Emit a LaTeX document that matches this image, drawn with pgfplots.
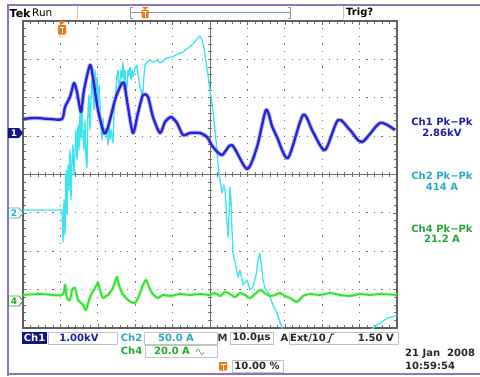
\documentclass[border=0pt]{standalone}
\usepackage{pgfplots}
\pgfplotsset{compat=1.18}
\usepackage{fontspec}
\setmainfont{DejaVu Sans}
\definecolor{chonel}{RGB}{35,35,215}
\definecolor{chonet}{RGB}{30,30,165}
\definecolor{chonedark}{RGB}{20,20,130}
\definecolor{chtwol}{RGB}{60,228,240}
\definecolor{chtwot}{RGB}{40,170,195}
\definecolor{chfourl}{RGB}{45,228,45}
\definecolor{chfourt}{RGB}{35,165,55}
\definecolor{tekorange}{RGB}{240,120,20}
\definecolor{gridgray}{RGB}{110,110,110}
\definecolor{bordergray}{RGB}{95,95,95}
\definecolor{boxgray}{RGB}{195,195,195}
\definecolor{framepurple}{RGB}{145,115,185}

\pgfplotstableread{
px py
23 119
35 118
50 119
62 119
65 107
70 97
74 83
77 92
81 112
84 90
90 65
93 78
98 110
104 133
108 127
115 100
120 87
124 83
128 107
133 133
138 113
143 95
148 97
153 117
160 133
165 122
171 117
177 123
183 135
190 133
200 133
207 137
213 147
222 155
232 145
247 169
257 147
266 110
272 126
277 137
288 158
303 115
313 132
325 150
338 120
350 130
362 142
380 123
395 130
}\chone

\pgfplotstableread{
px py
23 210
40 210
62 210
63 242
64 200
65 235
66 170
67 215
68 165
69 190
70 150
71 200
72 160
73 145
74 175
76 130
77 160
78 125
79 150
80 112
81 140
82 105
83 135
84 150
85 120
86 160
87 168
88 110
89 95
90 130
91 100
92 80
94 110
95 70
96 90
97 77
98 105
99 85
100 103
101 125
102 140
103 118
104 135
106 128
108 145
109 120
110 140
111 130
113 143
114 115
115 100
116 90
117 75
118 70
119 85
120 87
121 70
122 78
123 62
124 80
125 70
126 90
127 87
128 70
129 75
130 67
131 80
132 70
133 77
135 68
137 65
138 75
139 80
140 87
141 90
142 95
143 92
144 75
145 65
147 62
150 60
153 62
157 60
160 63
162 62
165 59
167 58
172 57
178 54
183 52
188 48
193 44
198 38
200 36
202 40
204 48
206 62
208 75
210 90
212 103
214 120
216 140
218 165
220 180
222 193
224 185
225 190
226 205
228 237
229 215
230 187
231 200
232 230
233 253
235 262
238 277
240 270
243 285
247 280
250 290
253 287
256 275
258 260
260 253
261 262
263 280
265 288
268 292
270 297
273 305
277 313
280 322
283 330
287 340
}\chtwoa

\pgfplotstableread{
px py
368 340
372 329
377 325
382 322
387 318
392 317
398 315
}\chtwob

\pgfplotstableread{
px py
23 295
40 294
62 295
65 285
67 298
70 300
72 290
75 288
78 300
80 302
83 305
86 310
89 300
92 293
95 288
98 283
100 290
103 298
106 296
108 295
110 292
112 290
115 282
117 277
119 285
122 293
125 297
128 300
131 302
135 303
138 298
140 293
143 285
146 280
149 287
152 293
155 296
158 298
163 295
170 296
180 294
190 295
200 294
210 295
215 293
220 296
225 292
230 294
235 297
240 293
245 295
250 298
255 294
260 290
265 293
270 296
275 295
280 293
285 296
290 298
297 302
303 296
310 294
320 295
330 293
340 295
350 296
360 294
370 295
380 294
397 295
}\chfour

\begin{document}
\begin{tikzpicture}[x=1pt,y=1pt,font=\bfseries\fontsize{10}{12}\selectfont]
\useasboundingbox (0,0) rectangle (480,376);
\fill[white] (0,0) rectangle (480,376);
% frame
\draw[framepurple,line width=2pt] (8,0) -- (8,371) -- (481,371);
\draw[framepurple,line width=2pt] (7,2) -- (481,2);
% header
\node[anchor=west,inner sep=0pt,font=\bfseries\fontsize{11}{12}\selectfont] at (9.5,363) {Tek};
\node[anchor=west,inner sep=0pt,font=\fontsize{10.5}{12}\selectfont] at (32,363) {Run};
\draw[boxgray] (77,357) -- (77,370);
\draw[boxgray] (343,357) -- (343,370);
\draw[gray!80] (132.5,358) -- (130,358) -- (130,369) -- (132.5,369);
\draw[gray!80] (287.5,358) -- (290,358) -- (290,369) -- (287.5,369);
\draw[chonel!55,line width=1pt] (130,363.5) -- (290,363.5);
\fill[tekorange] (142,369) -- (148,369) -- (145,366) -- cycle;
\fill[tekorange,rounded corners=1pt] (141.5,358) rectangle (148.5,366);
\draw[white,line width=0.9pt] (143,364.5) -- (147,364.5) (145,364.5) -- (145,359.5);
\node[anchor=west,inner sep=0pt] at (346,363) {Trig?};
% dotted graticule
\foreach \k in {1,2,3,4,6,7,8,9} {
  \foreach \j in {1,...,39} {
    \fill[gridgray] ({23+\k*37.4-0.6},{48+\j*7.675-0.6}) rectangle ++(1.2,1.2);
  }
}
\foreach \k in {1,2,3,5,6,7} {
  \foreach \j in {1,...,49} {
    \fill[gridgray] ({23+\j*7.48-0.6},{48+\k*38.375-0.6}) rectangle ++(1.2,1.2);
  }
}
% crosshair
\draw[gridgray,line width=0.6pt] (210,48) -- (210,355);
\draw[gridgray,line width=0.6pt] (23,201.5) -- (397,201.5);
\foreach \i in {1,...,49} { \draw[gridgray,line width=0.6pt] ({23+\i*7.48},199.3) -- ++(0,4.4); }
\foreach \i in {1,...,39} { \draw[gridgray,line width=0.6pt] (207.8,{48+\i*7.675}) -- ++(4.4,0); }
\begin{axis}[at={(23pt,48pt)},anchor=south west,scale only axis,
  width=374pt,height=307pt,
  xmin=23,xmax=397,ymin=21,ymax=328,y dir=reverse,
  xtick={23,60.4,97.8,135.2,172.6,210,247.4,284.8,322.2,359.6,397},
  ytick={21,59.375,97.75,136.125,174.5,212.875,251.25,289.625,328},
  minor x tick num=4,minor y tick num=4,
  xticklabels={},yticklabels={},
  tick align=inside,major tick length=4pt,minor tick length=3pt,
  tick style={gridgray,line width=0.6pt},
  axis line style={bordergray,line width=1.4pt},
  clip=true]
\addplot[chtwol,line width=1.3pt,line join=round] table[x=px,y=py] {\chtwoa};
\addplot[chtwol,line width=1.3pt,line join=round] table[x=px,y=py] {\chtwob};
\addplot[chfourl!60,opacity=0.5,line width=3.4pt,line join=round,smooth,tension=0.4] table[x=px,y=py] {\chfour};
\addplot[chfourl,line width=1.7pt,line join=round,smooth,tension=0.4] table[x=px,y=py] {\chfour};
\addplot[chonel!55,opacity=0.55,line width=4.2pt,line join=round,smooth,tension=0.45] table[x=px,y=py] {\chone};
\addplot[chonel,line width=2.3pt,line join=round,smooth,tension=0.45] table[x=px,y=py] {\chone};
\end{axis}
% trigger marker in graticule
\fill[tekorange] (58,355) -- (66,355) -- (62,351.5) -- cycle;
\fill[tekorange,rounded corners=1pt] (58,341.5) rectangle (66,351);
\draw[white,line width=1pt] (59.6,349) -- (64.4,349) (62,349) -- (62,343);
% channel markers
\fill[chonedark] (8,248) -- (19,248) -- (23,243) -- (19,238) -- (8,238) -- cycle;
\node[white,inner sep=0pt,font=\bfseries\fontsize{9}{10}\selectfont] at (14,243) {1};
\draw[chtwot,fill=white,line width=0.8pt] (8.5,168) -- (19,168) -- (23,163) -- (19,158) -- (8.5,158) -- cycle;
\node[chtwot,inner sep=0pt,font=\bfseries\fontsize{9}{10}\selectfont] at (14,163) {2};
\draw[chfourt,fill=white,line width=0.8pt] (8.5,80) -- (19,80) -- (23,75) -- (19,70) -- (8.5,70) -- cycle;
\node[chfourt,inner sep=0pt,font=\bfseries\fontsize{9}{10}\selectfont] at (14,75) {4};
% right readouts
\node[chonet,inner sep=0pt] at (442,254) {Ch1 Pk−Pk};
\node[chonet,inner sep=0pt] at (442,243.5) {2.86kV};
\node[chtwot,inner sep=0pt] at (442,200.5) {Ch2 Pk−Pk};
\node[chtwot,inner sep=0pt] at (442,189.5) {414 A};
\node[chfourt,inner sep=0pt] at (442,147.5) {Ch4 Pk−Pk};
\node[chfourt,inner sep=0pt] at (442,137) {21.2 A};
% bottom row 1
\fill[chonedark] (22,32) rectangle (47,44);
\node[white,inner sep=0pt] at (34.5,38) {Ch1};
\draw[boxgray,fill=white] (48,32) rectangle (117,44);
\node[chonet,inner sep=0pt] at (79,38) {1.00kV};
\node[chtwot,inner sep=0pt] at (131.5,38) {Ch2};
\draw[boxgray,fill=white] (144,32) rectangle (217,44);
\node[chtwot,inner sep=0pt] at (176,38) {50.0 A};
\node[inner sep=0pt,black!80] at (222.5,38) {M};
\draw[boxgray,fill=white] (230,32) rectangle (273,44);
\node[inner sep=0pt,black!85] at (251.5,38) {10.0µs};
\node[inner sep=0pt,black!85] at (284.5,38) {A};
\draw[boxgray,fill=white] (289,32) rectangle (398,44);
\node[anchor=west,inner sep=0pt,black!85] at (290,38) {Ext/10};
\draw[black!85,line width=1pt] (326.5,34) -- (329,34) -- (331.5,42) -- (334,42);
\node[anchor=east,inner sep=0pt,black!85] at (394,38) {1.50 V};
% bottom row 2
\node[chfourt,inner sep=0pt] at (131.5,25) {Ch4};
\draw[boxgray,fill=white] (145,19) rectangle (217,31);
\node[chfourt,inner sep=0pt] at (172,25) {20.0 A};
\draw[chfourt!80,line width=0.7pt] (196,24) sin (198,27) cos (200,24) sin (202,21.5) cos (204,24);
% bottom row 3
\fill[tekorange,rounded corners=0.8pt] (219,5.5) rectangle (227,14);
\draw[white,line width=0.9pt] (220.5,12) -- (225.5,12) (223,12) -- (223,6.5);
\draw[boxgray,fill=white] (232,4) rectangle (283,15.5);
\node[inner sep=0pt,black!85] at (257,10) {10.00 \%};
% date
\node[anchor=west,inner sep=0pt,black!85] at (405,22) {21 Jan\ \ 2008};
\node[anchor=west,inner sep=0pt,black!85] at (405,10) {10:59:54};
\end{tikzpicture}
\end{document}
